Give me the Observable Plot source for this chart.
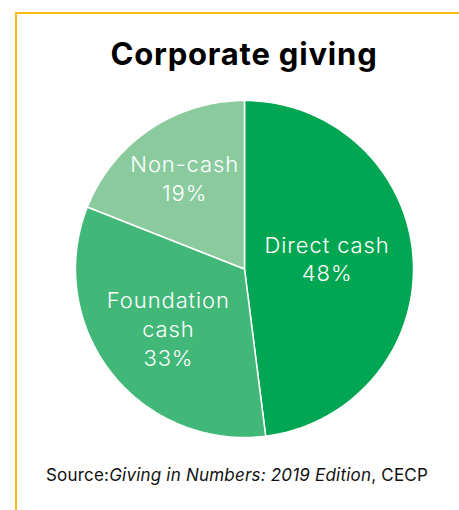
<!DOCTYPE html>
<html>
<head>
<meta charset="utf-8">
<script src="https://cdn.jsdelivr.net/npm/d3@7"></script>
<script src="https://cdn.jsdelivr.net/npm/@observablehq/plot@0.6"></script>
<style>
  html, body { margin: 0; padding: 0; background: #fff; }
  #wrap { position: relative; width: 459px; height: 510px; overflow: hidden; font-family: Inter, Roboto, sans-serif; }
  #frame { position: absolute; left: 15px; top: 12px; right: -10px; bottom: -10px; border-top: 2.5px solid #FDB913; border-left: 2.5px solid #FDB913; }
  #title { position: absolute; left: 29px; right: 0; top: 36px; text-align: center; font-size: 31px; font-weight: 700; line-height: 36px; color: #000; letter-spacing: 0.8px; }
  #chart { position: absolute; left: 0; top: 90px; }
  #caption { position: absolute; left: 15px; right: 0; top: 465px; text-align: center; font-size: 17px; line-height: 20px; color: #111; letter-spacing: 0.2px; }
</style>
</head>
<body>
<div id="wrap">
  <div id="frame"></div>
  <div id="title">Corporate giving</div>
  <div id="chart"></div>
  <div id="caption">Source:<i>Giving in Numbers: 2019 Edition</i>, CECP</div>
</div>
<script>
const categories = ["Direct cash", "Foundation cash", "Non-cash"];
const shares = [48, 33, 19];
const labelNames = ["Direct cash", "Foundation\ncash", "Non-cash"];
const colors = ["#00A651", "#41B877", "#8ACB9E"];

// label placement (styling): distance from centre as a fraction of the radius, and a pixel nudge
const labelStyle = {
  "Direct cash": {r: 0.49, dy: -6},
  "Foundation cash": {r: 0.57, dy: 0},
  "Non-cash": {r: 0.63, dy: -4}
};

const pie = d3.pie().sort(null).value(d => d.share);
const arcs = pie(categories.map((c, i) => ({category: c, share: shares[i], name: labelNames[i]})));

// polygon outline of each slice in unit coordinates
const outline = [];
for (const a of arcs) {
  const c = a.data.category;
  outline.push({category: c, x: 0, y: 0});
  const steps = Math.max(2, Math.ceil((a.endAngle - a.startAngle) / (Math.PI / 180)));
  for (let k = 0; k <= steps; k++) {
    const t = a.startAngle + (a.endAngle - a.startAngle) * k / steps;
    outline.push({category: c, x: Math.sin(t), y: Math.cos(t)});
  }
  outline.push({category: c, x: 0, y: 0});
}

const labels = arcs.map(a => {
  const m = (a.startAngle + a.endAngle) / 2;
  const s = labelStyle[a.data.category];
  return {x: s.r * Math.sin(m), y: s.r * Math.cos(m), dy: s.dy, text: `${a.data.name}\n${a.data.share}%`};
});

const chart = Plot.plot({
  width: 459,
  height: 360,
  marginLeft: 75,
  marginRight: 46,
  marginTop: 10,
  marginBottom: 13,
  x: {domain: [-1, 1], axis: null},
  y: {domain: [-1, 1], axis: null},
  color: {domain: categories, range: colors},
  style: {background: "transparent", overflow: "visible"},
  marks: [
    Plot.line(outline, {x: "x", y: "y", z: "category", fill: "category", stroke: "white", strokeWidth: 1.5, strokeLinejoin: "round", curve: "linear"}),
    ...labels.map(l => Plot.text([l], {x: "x", y: "y", text: "text", dy: l.dy, fill: "white", fontSize: 22, lineHeight: 1.3, fontFamily: "Inter, Roboto, sans-serif", fontWeight: 300, textAnchor: "middle"}))
  ]
});
chart.querySelectorAll("text").forEach(t => t.style.letterSpacing = "0.9px");
document.getElementById("chart").appendChild(chart);
</script>
</body>
</html>
